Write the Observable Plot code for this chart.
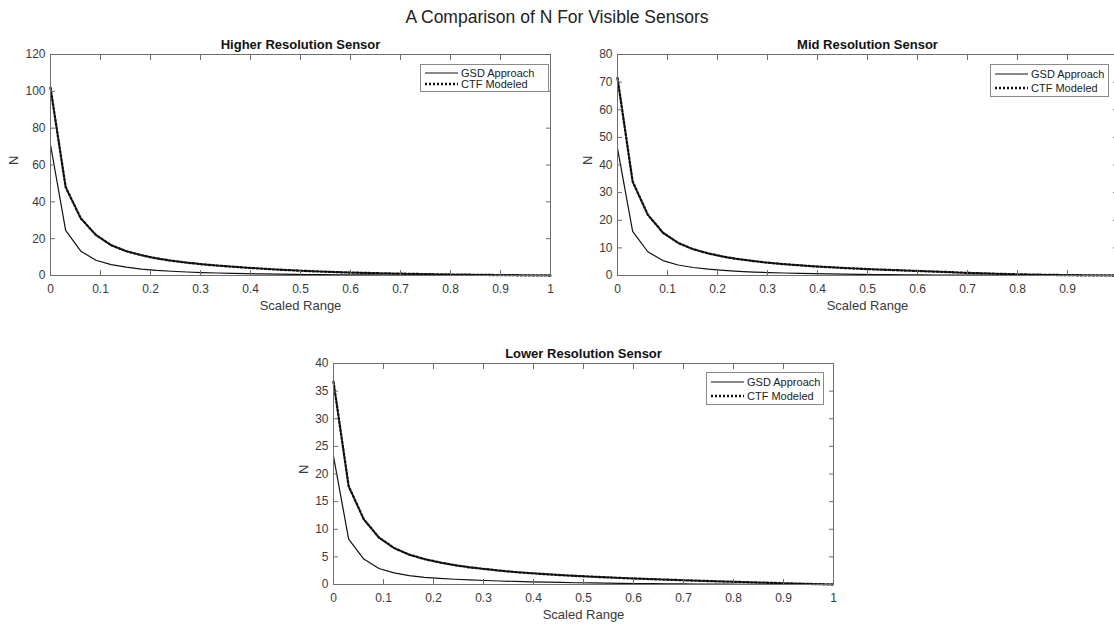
<!DOCTYPE html>
<html>
<head>
<meta charset="utf-8">
<script src="https://cdn.jsdelivr.net/npm/d3@7"></script>
<script src="https://cdn.jsdelivr.net/npm/@observablehq/plot@0.6"></script>
<style>
  html, body { margin: 0; padding: 0; background: #fff; }
  #fig { position: relative; width: 1114px; height: 624px; overflow: hidden; background: #fff;
         font-family: "Liberation Sans", Arial, Helvetica, sans-serif; }
  #suptitle { position: absolute; left: 0; width: 1114px; top: 7px; text-align: center;
              font-size: 17.5px; color: #222; }
  .panel { position: absolute; }
  .legend { position: absolute; background: #fff; border: 1px solid #8a8a8a; box-sizing: border-box;
            font-size: 11px; color: #222; }
  .legend .row { position: absolute; left: 4px; display: flex; align-items: center; white-space: nowrap; }
  .legend svg { margin-right: 3px; }
</style>
</head>
<body>
<div id="fig">
  <div id="suptitle">A Comparison of N For Visible Sensors</div>
</div>
<script>
// Scaled range samples shared by all three sensors
const scaledRange = [0, 0.0303, 0.0606, 0.0909, 0.1212, 0.1515, 0.1818, 0.2121, 0.2424, 0.2727,
  0.3030, 0.3333, 0.3636, 0.3939, 0.4242, 0.4545, 0.4848, 0.5152, 0.5455, 0.5758,
  0.6061, 0.6364, 0.6667, 0.6970, 0.7273, 0.7576, 0.7879, 0.8182, 0.8485, 0.8788,
  0.9091, 0.9394, 0.9697, 1];

// Higher resolution sensor
const highGSD = [71, 24.5, 13.2, 8.3, 5.9, 4.5, 3.5, 2.8, 2.3, 1.9,
  1.6, 1.35, 1.15, 1.0, 0.85, 0.75, 0.65, 0.55, 0.48, 0.41,
  0.35, 0.3, 0.25, 0.21, 0.17, 0.14, 0.11, 0.09, 0.07, 0.05,
  0.035, 0.02, 0.01, 0];
const highCTF = [102, 48, 31, 22, 16.5, 13.2, 11, 9.3, 8, 7,
  6.1, 5.4, 4.8, 4.2, 3.7, 3.2, 2.8, 2.4, 2.1, 1.8,
  1.55, 1.35, 1.15, 1.0, 0.85, 0.7, 0.58, 0.47, 0.37, 0.28,
  0.2, 0.12, 0.06, 0];

// Mid resolution sensor
const midGSD = [46, 16, 8.6, 5.4, 3.8, 2.9, 2.3, 1.85, 1.5, 1.25,
  1.05, 0.9, 0.78, 0.67, 0.58, 0.5, 0.43, 0.37, 0.32, 0.27,
  0.23, 0.19, 0.16, 0.13, 0.11, 0.09, 0.07, 0.055, 0.04, 0.03,
  0.02, 0.012, 0.005, 0];
const midCTF = [71.5, 34, 22, 15.5, 11.8, 9.5, 8.0, 6.8, 5.9, 5.2,
  4.6, 4.1, 3.7, 3.3, 3.0, 2.7, 2.45, 2.2, 2.0, 1.8,
  1.6, 1.4, 1.2, 0.95, 0.8, 0.62, 0.47, 0.36, 0.26, 0.18,
  0.11, 0.06, 0.02, 0];

// Lower resolution sensor
const lowGSD = [23.2, 8.2, 4.6, 2.9, 2.1, 1.6, 1.3, 1.1, 0.95, 0.82,
  0.72, 0.63, 0.55, 0.48, 0.42, 0.37, 0.32, 0.28, 0.24, 0.21,
  0.18, 0.15, 0.13, 0.11, 0.09, 0.07, 0.055, 0.04, 0.03, 0.02,
  0.013, 0.007, 0.003, 0];
const lowCTF = [36.7, 17.8, 11.8, 8.5, 6.6, 5.4, 4.6, 4.0, 3.5, 3.1,
  2.8, 2.5, 2.25, 2.05, 1.87, 1.7, 1.55, 1.42, 1.3, 1.18,
  1.07, 0.97, 0.87, 0.78, 0.69, 0.6, 0.52, 0.44, 0.36, 0.28,
  0.2, 0.13, 0.06, 0];

// Axis ticks
const xTicks = [0, 0.1, 0.2, 0.3, 0.4, 0.5, 0.6, 0.7, 0.8, 0.9, 1];
// the mid panel runs past the page edge, so its last label is left out
const midXLabels = [0, 0.1, 0.2, 0.3, 0.4, 0.5, 0.6, 0.7, 0.8, 0.9];
const highTicks = [0, 20, 40, 60, 80, 100, 120];
const midTicks = [0, 10, 20, 30, 40, 50, 60, 70, 80];
const lowTicks = [0, 5, 10, 15, 20, 25, 30, 35, 40];

const seriesNames = ["GSD Approach", "CTF Modeled"];
const titles = ["Higher Resolution Sensor", "Mid Resolution Sensor", "Lower Resolution Sensor"];
const xLabel = "Scaled Range";
const yLabel = "N";

const axisColor = "#6e6e6e";
const textColor = "#3a3a3a";
const dotted = "2,2";
const dottedWidth = 2.3;

function panel({title, gsd, ctf, yTicks, xLabels = xTicks, left, top, marginTop, marginBottom, labelOffsetY}) {
  const rows = scaledRange.map((x, i) => ({x, gsd: gsd[i], ctf: ctf[i]}));
  const yMax = yTicks[yTicks.length - 1];
  const chart = Plot.plot({
    width: 560,
    height: marginTop + 221 + marginBottom,
    marginLeft: 50,
    marginRight: 10,
    marginTop,
    marginBottom,
    style: {fontFamily: "'Liberation Sans', Arial, Helvetica, sans-serif", fontSize: "12px", color: textColor, background: "transparent", overflow: "visible"},
    x: {domain: [0, 1]},
    y: {domain: [0, yMax]},
    marks: [
      Plot.line(rows, {x: "x", y: "gsd", stroke: "#111", strokeWidth: 1.2}),
      Plot.line(rows, {x: "x", y: "ctf", stroke: "#111", strokeWidth: dottedWidth, strokeDasharray: dotted}),
      Plot.frame({stroke: axisColor}),
      // inward ticks on all four sides
      Plot.axisX(xTicks, {anchor: "bottom", tickSize: -5, tickFormat: () => "", stroke: axisColor, label: null}),
      Plot.axisX(xTicks, {anchor: "top", tickSize: -5, tickFormat: () => "", stroke: axisColor, label: null}),
      Plot.axisY(yTicks, {anchor: "left", tickSize: -5, tickFormat: () => "", stroke: axisColor, label: null}),
      Plot.axisY(yTicks, {anchor: "right", tickSize: -5, tickFormat: () => "", stroke: axisColor, label: null}),
      // tick labels
      Plot.axisX(xLabels, {anchor: "bottom", tickSize: 0, tickPadding: 9, fill: textColor, stroke: null,
        tickFormat: d => String(d), label: null, fontSize: 12}),
      Plot.axisY(yTicks, {anchor: "left", tickSize: 0, tickPadding: 5, fill: textColor, stroke: null,
        tickFormat: d => String(d), label: null, fontSize: 12}),
      // axis titles
      Plot.text([xLabel], {frameAnchor: "bottom", dy: 30, lineAnchor: "middle", fontSize: 13, fill: textColor}),
      Plot.text([yLabel], {frameAnchor: "left", dx: -labelOffsetY, rotate: -90, lineAnchor: "middle", fontSize: 13, fill: textColor}),
      Plot.text([title], {frameAnchor: "top", dy: -10, lineAnchor: "middle", fontWeight: "bold", fontSize: 13, fill: "#111"})
    ]
  });
  chart.classList.add("panel");
  chart.style.left = left + "px";
  chart.style.top = top + "px";
  document.getElementById("fig").appendChild(chart);
}

function legend({left, top, width, height, rowTops}) {
  const box = document.createElement("div");
  box.className = "legend";
  Object.assign(box.style, {left: left + "px", top: top + "px", width: width + "px", height: height + "px"});
  seriesNames.forEach((name, i) => {
    const row = document.createElement("div");
    row.className = "row";
    row.style.top = rowTops[i] + "px";
    const dash = i === 0 ? "" : `stroke-dasharray="${dotted}"`;
    const sw = i === 0 ? 1.2 : dottedWidth;
    row.innerHTML = `<svg width="33" height="6"><line x1="0" x2="33" y1="3" y2="3" stroke="#111" stroke-width="${sw}" ${dash}/></svg><span>${name}</span>`;
    box.appendChild(row);
  });
  document.getElementById("fig").appendChild(box);
}

panel({title: titles[0], gsd: highGSD, ctf: highCTF, yTicks: highTicks, left: 0, top: 30, marginTop: 24, marginBottom: 45, labelOffsetY: 37});
panel({title: titles[1], gsd: midGSD, ctf: midCTF, yTicks: midTicks, xLabels: midXLabels, left: 567, top: 30, marginTop: 24, marginBottom: 45, labelOffsetY: 30});
panel({title: titles[2], gsd: lowGSD, ctf: lowCTF, yTicks: lowTicks, left: 283, top: 340, marginTop: 23, marginBottom: 40, labelOffsetY: 30});

legend({left: 420, top: 64, width: 129, height: 28, rowTops: [2, 13]});
legend({left: 990, top: 64, width: 119, height: 33, rowTops: [3, 17]});
legend({left: 706, top: 372, width: 118, height: 33, rowTops: [3, 17]});
</script>
</body>
</html>
